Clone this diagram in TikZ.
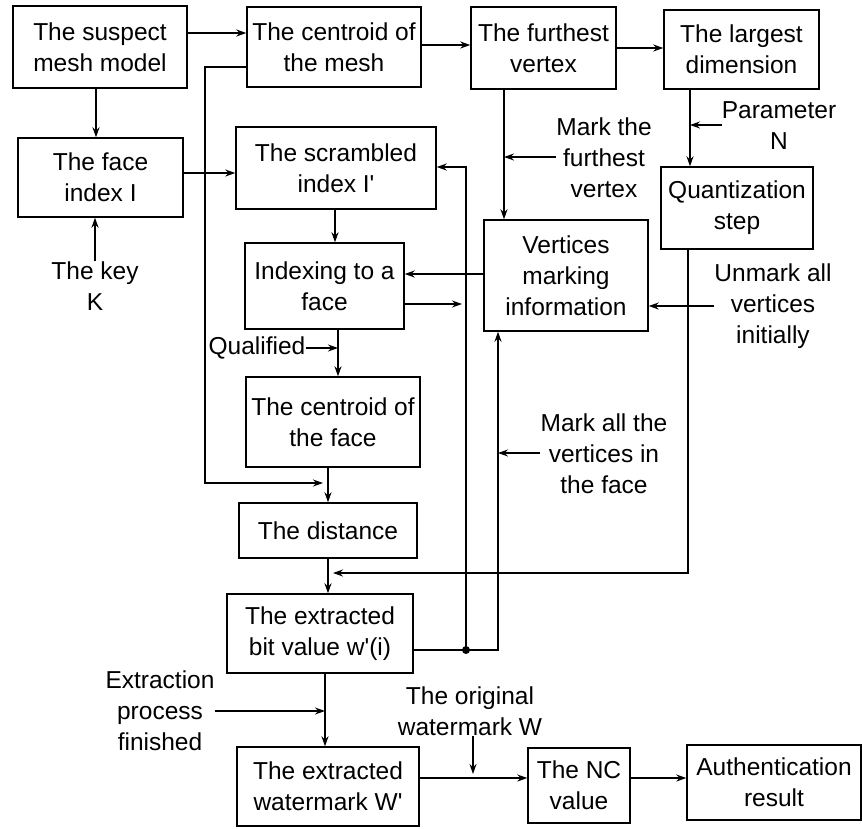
\documentclass[tikz,border=0pt]{standalone}
\usepackage{fontspec}
\setmainfont{Liberation Sans}
\usetikzlibrary{arrows.meta}
\begin{document}
\begin{tikzpicture}[x=1pt,y=-1pt,
  every node/.style={font=\fontsize{24.5}{31}\selectfont},
  box/.style={draw,line width=1.4pt,align=center,inner sep=0pt},
  lbl/.style={align=center,inner sep=0pt},
  conn/.style={line width=1.4pt,-{Stealth[length=10pt,width=7pt]}},
  wire/.style={line width=1.4pt}]
\useasboundingbox (0,0) rectangle (862,828);
% boxes
\node[box,minimum width=174pt,minimum height=82pt] (sus) at (100,47) {The suspect\\mesh model};
\node[box,minimum width=174pt,minimum height=80pt] (cm) at (334,47) {The centroid of\\the mesh};
\node[box,minimum width=145pt,minimum height=82pt] (fv) at (543.5,48) {The furthest\\vertex};
\node[box,minimum width=155pt,minimum height=79pt] (ld) at (741.5,49.5) {The largest\\dimension};
\node[box,minimum width=165pt,minimum height=79pt] (fi) at (100.5,177.5) {The face\\index I};
\node[box,minimum width=200pt,minimum height=82pt] (sc) at (336,168) {The scrambled\\index I\textquotesingle};
\node[box,minimum width=152pt,minimum height=82pt] (qs) at (737,208) {Quantization\\step};
\node[box,minimum width=164pt,minimum height=111pt] (vm) at (566,275.5) {Vertices\\marking\\information};
\node[box,minimum width=159pt,minimum height=86pt] (ix) at (324.5,286) {Indexing to a\\face};
\node[box,minimum width=174pt,minimum height=90pt] (cf) at (333,422) {The centroid of\\the face};
\node[box,minimum width=178pt,minimum height=55pt] (di) at (328,530.5) {The distance};
\node[box,minimum width=186pt,minimum height=79pt] (bv) at (320,633.5) {The extracted\\bit value w\textquotesingle(i)};
\node[box,minimum width=182pt,minimum height=79pt] (ew) at (328,786.5) {The extracted\\watermark W\textquotesingle};
\node[box,minimum width=102pt,minimum height=75pt] (nc) at (579,785.5) {The NC\\value};
\node[box,minimum width=174pt,minimum height=75pt] (au) at (774,782.5) {Authentication\\result};
% labels
\node[lbl] (lkey) at (95,286) {The key\\K};
\node[lbl] (lqual) at (257,348) {Qualified};
\node[lbl] (lmf) at (604,158) {Mark the\\furthest\\vertex};
\node[lbl] (lpn) at (779,126) {Parameter\\N};
\node[lbl] (lun) at (773,306) {Unmark all\\vertices\\initially};
\node[lbl] (lmv) at (604,454) {Mark all the\\vertices in\\the face};
\node[lbl] (lex) at (160,711) {Extraction\\process\\finished};
\node[lbl] (low) at (470,711) {The original\\watermark W};
% coordinates
\coordinate (m1) at (205,67);
\coordinate (m2) at (205,483);
\coordinate (m3) at (323,483);
\coordinate (j) at (466,650);
\coordinate (q1) at (688,573);
\coordinate (q2) at (333,573);
\coordinate (ixo) at (462,304);
% main flow
\draw[conn] (sus.east |- 0,33) -- (cm.west |- 0,33);
\draw[conn] (sus.south -| 96,0) -- (fi.north -| 96,0);
\draw[conn] (fi.east |- 0,173) -- (sc.west |- 0,173);
\draw[conn] (cm.east |- 0,45) -- (fv.west |- 0,45);
\draw[conn] (fv.east |- 0,48) -- (ld.west |- 0,48);
\draw[conn] (cm.west |- m1) -- (m1) -- (m2) -- (m3);
\draw[conn] (sc.south -| 335,0) -- (ix.north -| 335,0);
\draw[conn] (ix.south -| 338,0) -- (cf.north -| 338,0);
\draw[conn] (cf.south -| 328,0) -- (di.north -| 328,0);
\draw[conn] (di.south -| 328,0) -- (bv.north -| 328,0);
\draw[conn] (qs.south -| q1) -- (q1) -- (q2);
\draw[conn] (bv.east |- j) -- (498,650) -- (vm.south -| 498,0);
\draw[conn] (j) -- (466,167) -- (sc.east |- 0,167);
\fill (j) circle (4pt);
\draw[conn] (vm.west |- 0,274) -- (ix.east |- 0,274);
\draw[conn] (ix.east |- ixo) -- (ixo);
\draw[conn] (fv.south -| 504,0) -- (vm.north -| 504,0);
\draw[conn] (ld.south -| 690,0) -- (qs.north -| 690,0);
\draw[conn] (bv.south -| 325,0) -- (ew.north -| 325,0);
\draw[conn] (ew.east |- 0,778) -- (nc.west |- 0,778);
\draw[conn] (nc.east |- 0,778) -- (au.west |- 0,778);
% label arrows
\draw[conn] (lkey.north -| 95,0) -- (fi.south -| 95,0);
\draw[conn] (lqual.east) -- (338,348);
\draw[conn] (lmf.west |- 0,157) -- (504,157);
\draw[conn] (lpn.west |- 0,125) -- (690,125);
\draw[conn] (lun.west |- 0,306) -- (vm.east |- 0,306);
\draw[conn] (lmv.west |- 0,453) -- (498,453);
\draw[conn] (lex.east |- 0,711) -- (325,711);
\draw[conn] (low.south -| 473,0) -- (473,774);
\end{tikzpicture}
\end{document}
